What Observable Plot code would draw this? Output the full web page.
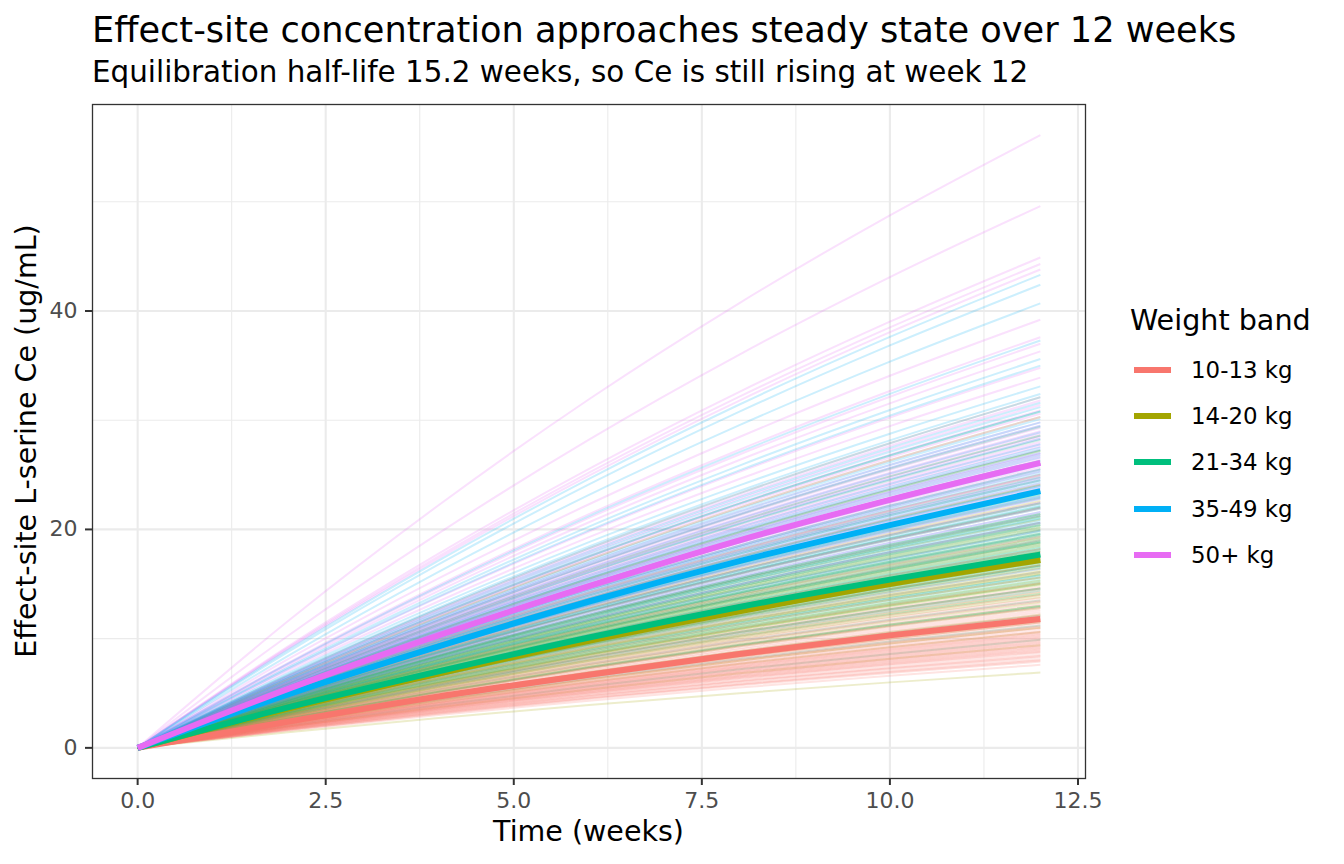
<!DOCTYPE html>
<html>
<head>
<meta charset="utf-8">
<script src="https://cdn.jsdelivr.net/npm/d3@7"></script>
<script src="https://cdn.jsdelivr.net/npm/@observablehq/plot@0.6"></script>
<style>
  html, body { margin: 0; padding: 0; background: #ffffff; }
  #fig { position: relative; width: 1344px; height: 864px; font-family: "DejaVu Sans", sans-serif; color: #000; }
  #fig svg { position: absolute; left: 0; top: 0; }
  .txt { position: absolute; white-space: nowrap; line-height: normal; font-family: "DejaVu Sans", sans-serif; }
</style>
</head>
<body>
<div id="fig"></div>
<script>
// ---------------- data ----------------
const bands = ["10-13 kg", "14-20 kg", "21-34 kg", "35-49 kg", "50+ kg"];
const bandColors = ["#F8766D", "#A3A500", "#00BF7D", "#00B0F6", "#E76BF3"];

// sampling times (weeks)
const weeks = [0, 2, 4, 6, 8, 10, 12];
// shape of an individual curve: fraction of its week-12 value reached at each time
const profile = [0, 0.207, 0.396, 0.569, 0.726, 0.869, 1];

// individual week-12 effect-site concentrations (ug/mL), per weight band
const ce12_10_13 = [7.6, 7.9, 8.1, 8.3, 8.5, 8.7, 8.9, 9.0, 9.2, 9.3, 9.5, 9.6, 9.8, 9.9, 10.1, 10.2, 10.4, 10.5, 10.7, 10.9, 11.0, 11.2, 11.4, 11.6, 11.8, 12.0, 12.2, 12.4, 12.6, 12.9, 13.1, 13.4, 13.7, 14.0, 14.3, 14.7, 15.1, 15.6, 16.1, 16.7, 17.4, 18.2, 19.3, 20.6, 22.4,
  8.0, 8.4, 8.8, 9.1, 9.4, 9.7, 10.0, 10.3, 10.6, 11.1, 11.5, 12.1, 12.8, 13.5, 14.5];
const ce12_14_20 = [6.9, 9.4, 10.6, 11.5, 12.2, 12.8, 13.3, 13.8, 14.2, 14.6, 15.0, 15.3, 15.6, 15.9, 16.2, 16.5, 16.8, 17.1, 17.3, 17.6, 17.9, 18.2, 18.5, 18.8, 19.2, 19.6, 20.0, 20.4, 20.9, 21.4, 22.0, 22.6, 23.3, 24.1, 25.0, 26.0, 27.2, 28.6, 30.3,
  13.0, 14.0, 15.1, 16.0, 16.7, 17.4, 18.0, 18.7, 19.4, 20.2, 21.2, 11.0, 14.9, 17.0, 19.0];
const ce12_21_34 = [9.9, 11.2, 12.1, 12.9, 13.5, 14.1, 14.6, 15.0, 15.4, 15.8, 16.1, 16.4, 16.7, 17.0, 17.2, 17.5, 17.7, 18.0, 18.3, 18.6, 18.9, 19.2, 19.5, 19.8, 20.2, 20.6, 21.0, 21.4, 21.9, 22.4, 22.9, 23.5, 24.1, 24.8, 25.5, 26.3, 27.2, 28.2, 29.4, 30.8, 32.1, 13.0, 16.9, 18.4, 20.0,
  14.4, 15.6, 16.6, 17.3, 18.1, 18.8, 19.6, 20.4, 21.2, 22.1, 23.2, 24.5, 26.0, 15.2, 19.0];
const ce12_35_49 = [14.6, 15.8, 16.7, 17.5, 18.2, 18.8, 19.4, 19.9, 20.4, 20.8, 21.2, 21.6, 22.0, 22.4, 22.8, 23.1, 23.5, 23.9, 24.3, 24.7, 25.1, 25.5, 25.9, 26.3, 26.8, 27.3, 27.8, 28.3, 28.9, 29.5, 30.1, 30.8, 31.6, 33.1, 35.0, 35.6, 37.3, 40.7, 42.4, 43.3, 21.0, 24.0, 27.0,
  19.6, 20.6, 21.4, 22.2, 23.0, 23.7, 24.5, 25.3, 26.0, 26.6, 27.5, 28.6, 29.8, 31.2, 32.4];
const ce12_50p = [16.4, 17.9, 19.0, 19.9, 20.6, 21.3, 21.9, 22.5, 23.0, 23.5, 24.0, 24.5, 24.9, 25.3, 25.7, 26.1, 26.5, 26.9, 27.3, 27.8, 28.3, 28.8, 29.3, 29.8, 30.3, 30.9, 31.4, 32.1, 33.9, 34.8, 36.3, 37.0, 37.6, 39.2, 43.8, 44.3, 44.9, 49.6, 56.1, 22.0, 25.0, 28.0,
  21.6, 22.8, 23.8, 24.7, 25.5, 26.3, 27.0, 27.6, 28.5, 29.5, 30.6, 31.8, 24.2, 26.7, 29.0];

// typical (thick) curve per band at the sampling times
const typ_10_13 = [0, 2.4, 4.7, 6.7, 8.6, 10.3, 11.8];
const typ_14_20 = [0, 3.6, 6.8, 9.8, 12.5, 15.0, 17.2];
const typ_21_34 = [0, 3.7, 7.0, 10.1, 12.9, 15.4, 17.7];
const typ_35_49 = [0, 4.9, 9.3, 13.4, 17.1, 20.4, 23.5];
const typ_50p   = [0, 5.4, 10.3, 14.8, 19.0, 22.7, 26.1];

// tick values
const xTicksMajor = [0, 2.5, 5, 7.5, 10, 12.5];
const xTicksMinor = [1.25, 3.75, 6.25, 8.75, 11.25];
const yTicksMajor = [0, 20, 40];
const yTicksMinor = [10, 30, 50];

// ---------------- build tables ----------------
const indivLists = [ce12_10_13, ce12_14_20, ce12_21_34, ce12_35_49, ce12_50p];
const typLists = [typ_10_13, typ_14_20, typ_21_34, typ_35_49, typ_50p];

const indivRows = [];
const nMax = d3.max(indivLists, l => l.length);
let id = 0;
for (let i = 0; i < nMax; i++) {
  for (let b = 0; b < bands.length; b++) {
    const v = indivLists[b][i];
    if (v === undefined) continue;
    id++;
    weeks.forEach((w, j) => indivRows.push({id, band: bands[b], week: w, ce: v * profile[j]}));
  }
}
const typRows = [];
bands.forEach((band, b) => weeks.forEach((w, j) => typRows.push({band, week: w, ce: typLists[b][j]})));

const ceMax = d3.max(indivRows, d => d.ce);
const yPad = ceMax * 0.05;

const grid = "#ebebeb";
const plot = Plot.plot({
  width: 1344,
  height: 864,
  marginLeft: 92,
  marginRight: 259,
  marginTop: 104,
  marginBottom: 86,
  style: {fontFamily: "DejaVu Sans", background: "transparent", overflow: "visible"},
  x: {domain: [-0.6, 12.6], label: null},
  y: {domain: [-yPad, ceMax + yPad], label: null},
  color: {domain: bands, range: bandColors},
  marks: [
    Plot.gridX(xTicksMinor, {stroke: grid, strokeOpacity: 1, strokeWidth: 1.1}),
    Plot.gridY(yTicksMinor, {stroke: grid, strokeOpacity: 1, strokeWidth: 1.1}),
    Plot.gridX(xTicksMajor, {stroke: grid, strokeOpacity: 1, strokeWidth: 2.1}),
    Plot.gridY(yTicksMajor, {stroke: grid, strokeOpacity: 1, strokeWidth: 2.1}),
    Plot.line(indivRows, {x: "week", y: "ce", z: "id", stroke: "band", strokeOpacity: 0.2, strokeWidth: 2, curve: "monotone-x", strokeLinecap: "butt"}),
    Plot.line(typRows, {x: "week", y: "ce", z: "band", stroke: "band", strokeWidth: 6, curve: "monotone-x", strokeLinecap: "butt"}),
    Plot.frame({stroke: "#333333", strokeWidth: 1.3}),
    Plot.axisX(xTicksMajor, {tickFormat: d => d.toFixed(1), tickSize: 7, tickPadding: 7, fontSize: 22, fill: "#4d4d4d", stroke: "#333333", strokeWidth: 2, label: null}),
    Plot.axisY(yTicksMajor, {tickSize: 7, tickPadding: 8, fontSize: 22, fill: "#4d4d4d", stroke: "#333333", strokeWidth: 2, label: null})
  ]
});

const fig = document.getElementById("fig");
fig.appendChild(plot);

function addText(str, css) {
  const d = document.createElement("div");
  d.className = "txt";
  d.textContent = str;
  Object.assign(d.style, css);
  fig.appendChild(d);
  return d;
}
// title & subtitle (top = baseline - 0.928*fs)
addText("Effect-site concentration approaches steady state over 12 weeks", {left: "92px", top: (41.7 - 0.928 * 35.15) + "px", fontSize: "35.15px"});
addText("Equilibration half-life 15.2 weeks, so Ce is still rising at week 12", {left: "92px", top: (82.3 - 0.928 * 29.4) + "px", fontSize: "29.4px"});
// axis titles
addText("Time (weeks)", {left: "588.5px", top: (841.7 - 0.928 * 28.5) + "px", fontSize: "28.5px", transform: "translateX(-50%)"});
addText("Effect-site L-serine Ce (ug/mL)", {left: "26px", top: "441px", fontSize: "28.5px", transform: "translate(-50%,-50%) rotate(-90deg)"});

// legend (colours from the plot's own colour scale)
const color = plot.scale("color");
addText("Weight band", {left: "1130px", top: (330 - 0.928 * 28.6) + "px", fontSize: "28.6px"});
const rowY = [370, 416.3, 462.3, 508.7, 555];
color.domain.forEach((band, i) => {
  const key = document.createElement("div");
  Object.assign(key.style, {position: "absolute", left: "1134px", top: (rowY[i] - 3) + "px", width: "37px", height: "6px", background: color.apply(band)});
  fig.appendChild(key);
  addText(band, {left: "1191px", top: (rowY[i] + 0.3645 * 22.9 - 0.928 * 22.9) + "px", fontSize: "22.9px"});
});
</script>
</body>
</html>
